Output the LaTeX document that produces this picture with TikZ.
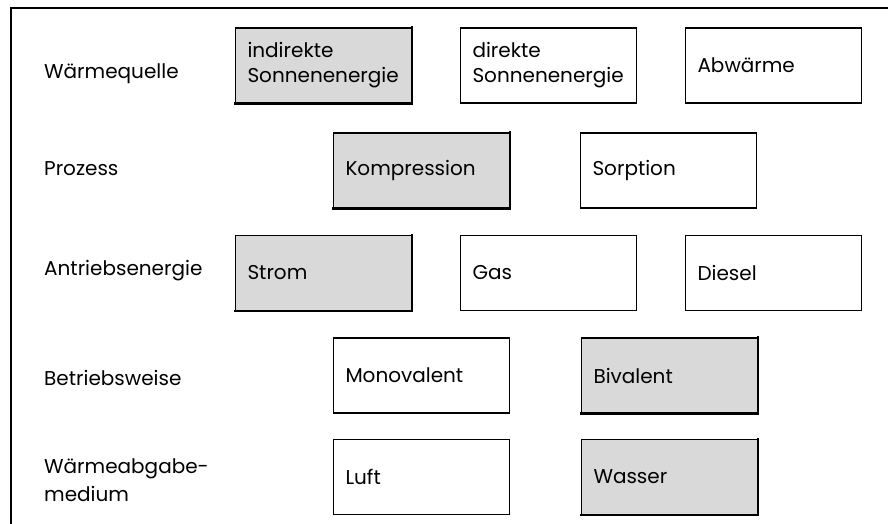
\documentclass[tikz,border=0pt]{standalone}
\usepackage{fontspec}
\setmainfont{Poppins}
\begin{document}
\begin{tikzpicture}[x=1pt,y=-1pt,
  every node/.style={font=\fontsize{20}{25}\selectfont},
  box/.style={draw=black, line width=1.3pt, minimum width=176pt, minimum height=75pt,
    text width=152pt, align=left, inner xsep=12pt, inner ysep=0pt},
  hibox/.style={box, fill=gray!30},
  shade/.style={line width=2.6pt, line cap=rect},
  rowlabel/.style={anchor=west, align=left, inner sep=0pt, font=\fontsize{20}{28}\selectfont},
  frame/.style={line width=1.2pt}]
\useasboundingbox (0,0) rectangle (888,524);
% frame
\coordinate (fbl) at (11,524);
\coordinate (ftl) at (11,8);
\coordinate (ftr) at (888,8);
\draw[frame] (fbl) -- (ftl) -- (ftr);
% row labels
\node[rowlabel] (l1) at (44,74) {Wärmequelle};
\node[rowlabel] (l2) at (44,169) {Prozess};
\node[rowlabel] (l3) at (44,271) {Antriebsenergie};
\node[rowlabel] (l4) at (44,378) {Betriebsweise};
\node[rowlabel] (l5) at (44,480) {Wärmeabgabe-\\medium};
% row 1
\node[hibox] (a1) at (323.5,65.5) {indirekte\\Sonnenenergie};
\node[box] (a2) at (548.5,65.5) {direkte\\Sonnenenergie};
\node[box] (a3) at (773.5,65.5) {Abwärme};
% row 2
\node[hibox] (b1) at (421.5,170.5) {Kompression};
\node[box] (b2) at (668.5,170.5) {Sorption};
% row 3
\node[hibox] (c1) at (323.5,273) {Strom};
\node[box] (c2) at (548.5,273) {Gas};
\node[box] (c3) at (773.5,273) {Diesel};
% row 4
\node[box] (d1) at (421.5,375.5) {Monovalent};
\node[hibox] (d2) at (669.5,375.5) {Bivalent};
% row 5
\node[box] (e1) at (421.5,477) {Luft};
\node[hibox] (e2) at (669.5,477) {Wasser};
% heavier lower/right edges of shaded boxes
\foreach \n in {a1,b1,c1,d2,e2}
  \draw[shade] (\n.north east) -- (\n.south east) -- (\n.south west);
\end{tikzpicture}
\end{document}
